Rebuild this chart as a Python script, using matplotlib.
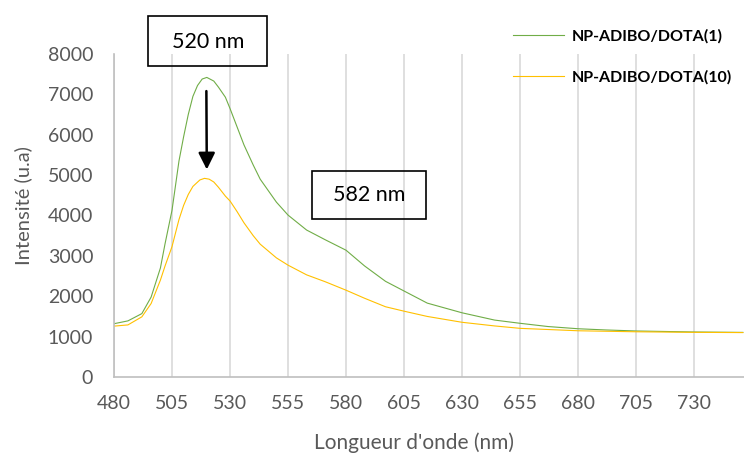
import matplotlib.pyplot as plt
from matplotlib.patches import Rectangle

plt.rcParams['font.family'] = ['Lato', 'DejaVu Sans']

# spectra (nm, u.a)
wl_1 = [480, 486, 492, 496, 500, 502, 505, 508, 510, 512, 514, 516, 518, 520, 523, 525,
        528, 530, 533, 536, 540, 543, 550, 555, 563, 571, 580, 588, 597, 605, 615, 630,
        644, 655, 667, 680, 692, 705, 730, 751]
int_1 = [1320, 1390, 1570, 1980, 2700, 3300, 4130, 5350, 5950, 6500, 6950, 7220, 7380,
         7420, 7330, 7180, 6930, 6650, 6200, 5750, 5250, 4900, 4330, 4010, 3640, 3400,
         3140, 2750, 2370, 2130, 1830, 1590, 1410, 1330, 1250, 1195, 1165, 1140, 1115, 1105]

wl_10 = [480, 486, 492, 496, 500, 502, 505, 508, 510, 512, 514, 517, 519, 521, 523, 525,
         528, 530, 533, 536, 540, 543, 550, 555, 563, 571, 580, 588, 597, 605, 615, 630,
         644, 655, 680, 705, 730, 751]
int_10 = [1260, 1290, 1490, 1820, 2400, 2750, 3230, 3900, 4250, 4520, 4720, 4880, 4920,
          4900, 4830, 4700, 4480, 4360, 4100, 3820, 3500, 3290, 2950, 2770, 2530, 2360,
          2150, 1950, 1740, 1630, 1500, 1355, 1265, 1205, 1145, 1120, 1106, 1100]

labels = ['NP-ADIBO/DOTA(1)', 'NP-ADIBO/DOTA(10)']
xticks = list(range(480, 751, 25))
yticks = list(range(0, 8001, 1000))

grey = '#595959'

fig = plt.figure(figsize=(7.44, 4.54), dpi=100)
ax = fig.add_axes([114/744, 1 - 377/454, 1 - 114/744, 323/454])

ax.plot(wl_1, int_1, color='#70ad47', lw=0.8, label=labels[0])
ax.plot(wl_10, int_10, color='#ffc000', lw=0.8, label=labels[1])

ax.set_xlim(480, 751.5)
ax.set_ylim(0, 8000)
ax.set_xticks(xticks)
ax.set_yticks(yticks)
ax.grid(axis='x', color='#d9d9d9', lw=1.2)
ax.set_axisbelow(True)
for s in ['top', 'right']:
    ax.spines[s].set_visible(False)
for s in ['left', 'bottom']:
    ax.spines[s].set_color('#bfbfbf')
    ax.spines[s].set_linewidth(1.2)
ax.tick_params(length=0, labelsize=14, labelcolor=grey)
ax.tick_params(axis='x', pad=13)
ax.tick_params(axis='y', pad=15)

ax.set_xlabel("Longueur d'onde (nm)", fontsize=15, color=grey)
ax.xaxis.set_label_coords(0.476, -0.172)
ax.set_ylabel('Intensité (u.a)', fontsize=14.5, color=grey)
ax.yaxis.set_label_coords(-0.13, 0.53)

ax.legend(loc='upper left', bbox_to_anchor=(513/744, 0.935), bbox_transform=fig.transFigure,
          frameon=False, borderpad=0, borderaxespad=0, handlelength=3.2,
          handletextpad=0.45, labelspacing=1.65, prop={'size': 11.5, 'weight': 'bold'})

# annotation boxes
fig.add_artist(Rectangle((148/744, 1 - 66/454), 119/744, 50/454, transform=fig.transFigure,
                         fill=False, ec='black', lw=1.2))
fig.text(208/744, 1 - 42/454, '520 nm', ha='center', va='center', fontsize=15.5)
fig.add_artist(Rectangle((312/744, 1 - 219/454), 114/744, 48/454, transform=fig.transFigure,
                         fill=False, ec='black', lw=1.2))
fig.text(369/744, 1 - 195/454, '582 nm', ha='center', va='center', fontsize=15.5)

ax.annotate('', xy=(520, 5070), xytext=(519.8, 7150),
            arrowprops=dict(arrowstyle='-|>,head_length=1.0,head_width=0.5',
                            color='black', lw=1.8))

fig.savefig('out.png', dpi=100)
